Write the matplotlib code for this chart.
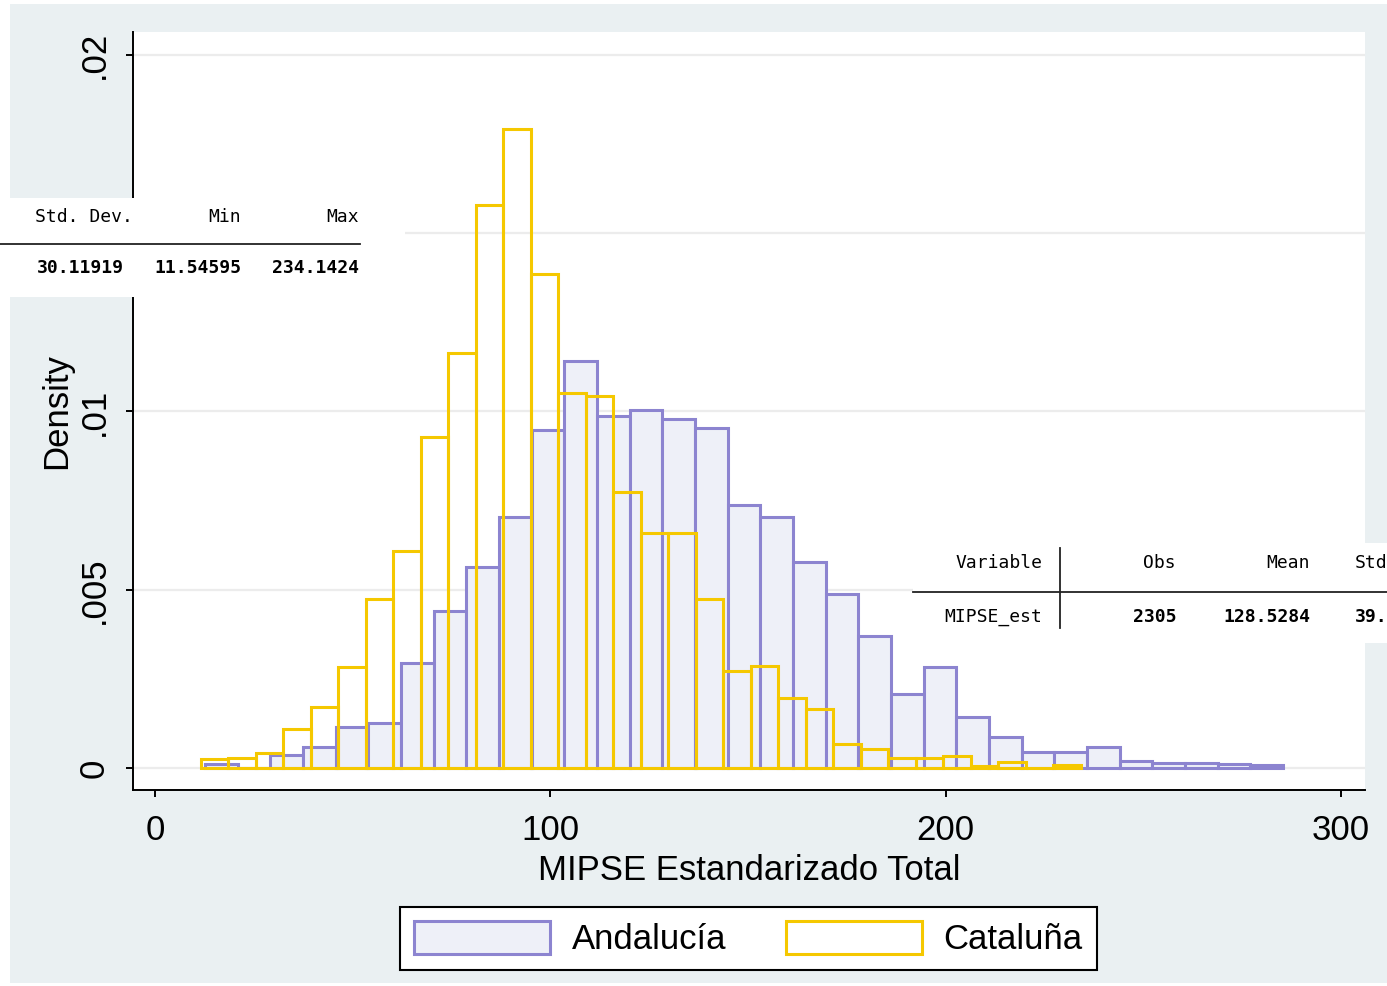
import numpy as np
import matplotlib
matplotlib.use("Agg")
import matplotlib.pyplot as plt
from matplotlib.patches import Patch, Rectangle
from matplotlib.lines import Line2D

# histogram densities (Stata default bins)
andalucia_range = (12.6, 285.4)
andalucia_density = [0.00011, 0.0, 0.00036, 0.00059, 0.00115, 0.00126, 0.00295,
                     0.0044, 0.00564, 0.00704, 0.00948, 0.01142, 0.00987, 0.01004,
                     0.00979, 0.00954, 0.00738, 0.00704, 0.00578, 0.00488, 0.0037,
                     0.00208, 0.00283, 0.00143, 0.00087, 0.00045, 0.00045, 0.00059,
                     0.0002, 0.00014, 0.00014, 0.0001, 0.00008]

cataluna_range = (11.54595, 234.1424)
cataluna_density = [0.00025, 0.00028, 0.00042, 0.0011, 0.0017, 0.00283, 0.00474,
                    0.0061, 0.00928, 0.01164, 0.01579, 0.01792, 0.01386, 0.01052,
                    0.01043, 0.00774, 0.00659, 0.00659, 0.00474, 0.00272, 0.00286,
                    0.00196, 0.00166, 0.00067, 0.00053, 0.00028, 0.00028, 0.00034,
                    0.00006, 0.00017, 0.0, 0.00008]

x_ticks = [0, 100, 200, 300]
y_ticks = [0, 0.005, 0.01, 0.015, 0.02]
y_ticklabels = ["0", ".005", ".01", "", ".02"]  # .015 is hidden under the pasted table

# pasted summary tables
table1_head = ["Std. Dev.", "Min", "Max"]
table1_vals = ["30.11919", "11.54595", "234.1424"]
table2_head = ["Variable", "Obs", "Mean", "Std"]
table2_vals = ["MIPSE_est", "2305", "128.5284", "39."]

purple = "#8c84d0"
lavender = "#eef0f8"
yellow = "#f5c800"
bg = "#eaf0f2"

W, H = 1387, 986
fig = plt.figure(figsize=(W / 100, H / 100), dpi=100)
fig.patch.set_facecolor("white")


def fx(x):
    return x / W


def fy(y):
    return 1 - y / H


fig.patches.append(Rectangle((fx(10), fy(983)), fx(1387) - fx(10), fy(4) - fy(983),
                             transform=fig.transFigure, facecolor=bg, edgecolor="none", zorder=-10))

ax = fig.add_axes([fx(133), fy(790), fx(1365) - fx(133), fy(32) - fy(790)])
ax.set_facecolor("white")

a_edges = np.linspace(andalucia_range[0], andalucia_range[1], len(andalucia_density) + 1)
c_edges = np.linspace(cataluna_range[0], cataluna_range[1], len(cataluna_density) + 1)

ax.bar(a_edges[:-1], andalucia_density, width=np.diff(a_edges), align="edge",
       facecolor=lavender, edgecolor=purple, linewidth=2.2, zorder=2)
ax.bar(c_edges[:-1], cataluna_density, width=np.diff(c_edges), align="edge",
       facecolor="none", edgecolor=yellow, linewidth=2.2, zorder=3)

ax.set_xlim(-5.57, 306.1)
ax.set_ylim(-0.000617, 0.020645)
ax.set_xticks(x_ticks)
ax.set_yticks(y_ticks)
ax.set_yticklabels(y_ticklabels, rotation=90, va="center")
ax.grid(axis="y", color="#ececec", linewidth=1.6, zorder=0)
ax.set_axisbelow(True)

for s in ["top", "right"]:
    ax.spines[s].set_visible(False)
for s in ["left", "bottom"]:
    ax.spines[s].set_linewidth(1.4)
    ax.spines[s].set_color("black")

font = "Liberation Sans"
fs = 25
ax.tick_params(axis="both", length=5, width=1.4, labelsize=fs)
ax.tick_params(axis="y", pad=11)
ax.tick_params(axis="x", pad=12)
for lab in ax.get_xticklabels() + ax.get_yticklabels():
    lab.set_family(font)

ax.set_xlabel("MIPSE Estandarizado Total", fontsize=fs, family=font, labelpad=5)
ax.set_ylabel("Density", fontsize=fs, family=font, labelpad=3)

handles = [Patch(facecolor=lavender, edgecolor=purple, linewidth=2.2),
           Patch(facecolor="white", edgecolor=yellow, linewidth=2.2)]
leg = fig.legend(handles, ["Andalucía", "Cataluña"], loc="center",
                 bbox_to_anchor=(fx((397 + 1100) / 2), fy(938.5)), ncol=2,
                 prop={"family": font, "size": fs}, frameon=True, fancybox=False,
                 edgecolor="black", framealpha=1, handlelength=3.9, handleheight=1.07,
                 handletextpad=0.63, columnspacing=1.73, borderpad=0.4)
leg.get_frame().set_linewidth(1.5)

# first pasted table (top left)
mono = "DejaVu Sans Mono"
mfs = 13
fig.patches.append(Rectangle((fx(0), fy(297)), fx(405), fy(198) - fy(297),
                             transform=fig.transFigure, facecolor="white", edgecolor="none", zorder=5))
for txt, xr in zip(table1_head, [133, 241, 359]):
    fig.text(fx(xr), fy(217), txt, ha="right", va="center", family=mono, fontsize=mfs, zorder=6)
for txt, xr in zip(table1_vals, [124, 241, 359]):
    fig.text(fx(xr), fy(268), txt, ha="right", va="center", family=mono, fontsize=mfs,
             fontweight="bold", zorder=6)
fig.lines.append(Line2D([fx(0), fx(360)], [fy(244), fy(244)], transform=fig.transFigure,
                        color="#222222", linewidth=1.3, zorder=6))

# second pasted table (right)
fig.patches.append(Rectangle((fx(913), fy(643)), fx(1387) - fx(913), fy(543) - fy(643),
                             transform=fig.transFigure, facecolor="white", edgecolor="none", zorder=5))
for i, (txt, xr) in enumerate(zip(table2_head, [1042, 1176, 1310, 1355])):
    fig.text(fx(xr), fy(563), txt, ha="left" if i == 3 else "right", va="center",
             family=mono, fontsize=mfs, zorder=6)
for i, (txt, xr) in enumerate(zip(table2_vals, [1042, 1176, 1310, 1355])):
    fig.text(fx(xr), fy(617), txt, ha="left" if i == 3 else "right", va="center",
             family=mono, fontsize=mfs, fontweight="normal" if i == 0 else "bold", zorder=6)
fig.lines.append(Line2D([fx(913), fx(1387)], [fy(592), fy(592)], transform=fig.transFigure,
                        color="#222222", linewidth=1.3, zorder=6))
fig.lines.append(Line2D([fx(1060), fx(1060)], [fy(548), fy(628)], transform=fig.transFigure,
                        color="#222222", linewidth=1.3, zorder=6))

fig.savefig("out.png", dpi=100)
